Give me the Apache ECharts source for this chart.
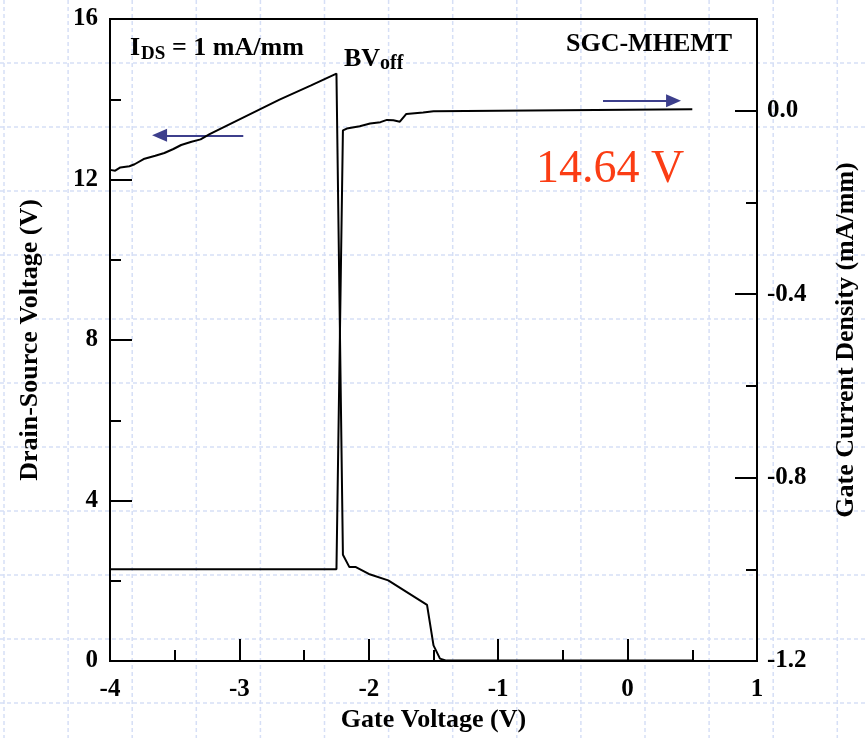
<!DOCTYPE html>
<html>
<head>
<meta charset="utf-8">
<script src="https://cdn.jsdelivr.net/npm/echarts@6/dist/echarts.min.js"></script>
<style>
  html, body { margin: 0; padding: 0; background: #ffffff; }
  #chart { width: 868px; height: 738px; }
</style>
</head>
<body>
<div id="chart"></div>
<script>
// Off-state breakdown measurement (drain current injection, I_DS = 1 mA/mm)
// Drain-source voltage vs gate voltage (left axis)
const vdsGate = [-4.00, -3.96, -3.92, -3.85, -3.81, -3.74, -3.65, -3.58, -3.51, -3.45, -3.37, -3.30, -3.23,
                 -2.96, -2.69, -2.45, -2.25, -2.20, -2.15, -2.10, -2.00, -1.85, -1.55, -1.50, -1.45, -1.40, 0.50];
const vdsValues = [12.24, 12.22, 12.30, 12.33, 12.38, 12.51, 12.59, 12.66, 12.76, 12.86, 12.94, 13.00, 13.13,
                   13.56, 13.99, 14.34, 14.64, 2.65, 2.34, 2.34, 2.17, 2.01, 1.40, 0.39, 0.06, 0.01, 0.01];

// Gate current density vs gate voltage (right axis)
const igGate = [-4.00, -3.00, -2.25, -2.20, -2.17, -2.07, -1.99, -1.91, -1.86, -1.81, -1.76, -1.71,
                -1.58, -1.50, -1.00, -0.50, 0.00, 0.50];
const igValues = [-1.000, -1.000, -1.000, -0.043, -0.039, -0.034, -0.028, -0.025, -0.020, -0.021, -0.024, -0.007,
                  -0.004, -0.001, 0.000, 0.001, 0.002, 0.003];

// Axis extents and tick steps
const gateRange = [-4, 1], gateStep = 1;
const vdsRange = [0, 16], vdsStep = 4;
const igRange = [-1.2, 0.2], igStep = 0.4;

// Direction arrows: which curve belongs to which axis
const vdsArrow = { from: [-2.97, 13.10], to: [-3.617, 13.10] };
const igArrow = { from: [-0.19, 0.022], to: [0.355, 0.022] };

const serif = "'Liberation Serif', 'Times New Roman', serif";
const ink = '#000000';
const arrowColor = '#3d3f8c';

function pairs(xs, ys) { return xs.map((x, i) => [x, ys[i]]); }

// Faint dashed slide grid behind the plot
const backdrop = [];
for (let k = 0; k < 14; k++) {
  const x = 4 + 64.1 * k;
  backdrop.push({ type: 'line', silent: true, z: -10,
    shape: { x1: x, y1: 0, x2: x, y2: 738 },
    style: { stroke: '#d6dff6', lineWidth: 1.5, lineDash: [4, 3] } });
}
for (let k = 0; k < 11; k++) {
  const y = 63 + 64 * k;
  backdrop.push({ type: 'line', silent: true, z: -10,
    shape: { x1: 0, y1: y, x2: 868, y2: y },
    style: { stroke: '#d6dff6', lineWidth: 1.5, lineDash: [4, 3] } });
}

function label(text, x, y, size, opts) {
  opts = opts || {};
  return { type: 'text', silent: true, z: 50,
    style: { x: x, y: y, text: text, fill: opts.color || ink,
      font: (opts.weight || 'bold') + ' ' + size + 'px ' + serif,
      align: 'left', textAlign: 'left', verticalAlign: 'middle', textVerticalAlign: 'middle' } };
}

const annotations = [
  label('I', 130, 48, 26),
  label('DS', 141, 54.5, 19),
  label('= 1 mA/mm', 172, 48, 26),
  label('BV', 344, 59, 26),
  label('off', 380, 63.5, 20),
  label('SGC-MHEMT', 566, 44.5, 26),
  label('14.64 V', 536, 169.5, 46, { weight: 'normal', color: '#fb3d14' })
];

const tickLabel = { color: ink, fontFamily: serif, fontWeight: 'bold', fontSize: 25 };
const titleStyle = { color: ink, fontFamily: serif, fontWeight: 'bold', fontSize: 26 };
const lineBlack = { color: ink, width: 2 };

const chart = echarts.init(document.getElementById('chart'), null, { renderer: 'canvas' });
chart.setOption({
  animation: false,
  backgroundColor: 'transparent',
  grid: { left: 110, right: 111, top: 19, bottom: 73, show: true,
          borderColor: ink, borderWidth: 2, backgroundColor: 'transparent' },
  xAxis: {
    type: 'value', min: gateRange[0], max: gateRange[1], interval: gateStep,
    axisLine: { onZero: false, lineStyle: lineBlack },
    axisTick: { inside: true, length: 22, lineStyle: lineBlack },
    minorTick: { show: true, splitNumber: 2, length: 11, lineStyle: lineBlack },
    splitLine: { show: false }, minorSplitLine: { show: false },
    axisLabel: Object.assign({ margin: 16 }, tickLabel),
    name: 'Gate Voltage (V)', nameLocation: 'middle', nameGap: 46, nameTextStyle: titleStyle
  },
  yAxis: [
    {
      type: 'value', position: 'left', min: vdsRange[0], max: vdsRange[1], interval: vdsStep,
      axisLine: { onZero: false, lineStyle: lineBlack },
      axisTick: { inside: true, length: 22, lineStyle: lineBlack },
      minorTick: { show: true, splitNumber: 2, length: 11, lineStyle: lineBlack },
      splitLine: { show: false }, minorSplitLine: { show: false },
      axisLabel: Object.assign({ margin: 12 }, tickLabel),
      name: 'Drain-Source Voltage (V)', nameLocation: 'middle', nameGap: 67, nameTextStyle: titleStyle
    },
    {
      type: 'value', position: 'right', min: igRange[0], max: igRange[1], interval: igStep,
      axisLine: { onZero: false, lineStyle: lineBlack },
      axisTick: { inside: true, length: 22, lineStyle: lineBlack },
      minorTick: { show: true, splitNumber: 2, length: 11, lineStyle: lineBlack },
      splitLine: { show: false }, minorSplitLine: { show: false },
      axisLabel: Object.assign({ margin: 10, showMaxLabel: false,
        formatter: v => (Math.abs(v) < 1e-9 ? 0 : v).toFixed(1) }, tickLabel),
      name: 'Gate Current Density (mA/mm)', nameLocation: 'middle', nameGap: 76, nameTextStyle: titleStyle
    }
  ],
  series: [
    {
      name: 'VDS', type: 'line', xAxisIndex: 0, yAxisIndex: 0,
      data: pairs(vdsGate, vdsValues), showSymbol: false, symbol: 'none',
      lineStyle: { color: ink, width: 2 }, silent: true, z: 5,
      markLine: {
        silent: true, symbol: ['none', 'triangle'], symbolSize: [13, 15],
        label: { show: false }, lineStyle: { color: arrowColor, width: 2, type: 'solid' },
        data: [[{ coord: vdsArrow.from }, { coord: vdsArrow.to }]]
      }
    },
    {
      name: 'IG', type: 'line', xAxisIndex: 0, yAxisIndex: 1,
      data: pairs(igGate, igValues), showSymbol: false, symbol: 'none',
      lineStyle: { color: ink, width: 2 }, silent: true, z: 5,
      markLine: {
        silent: true, symbol: ['none', 'triangle'], symbolSize: [13, 15],
        label: { show: false }, lineStyle: { color: arrowColor, width: 2, type: 'solid' },
        data: [[{ coord: igArrow.from }, { coord: igArrow.to }]]
      }
    }
  ],
  graphic: backdrop.concat(annotations)
});
</script>
</body>
</html>
